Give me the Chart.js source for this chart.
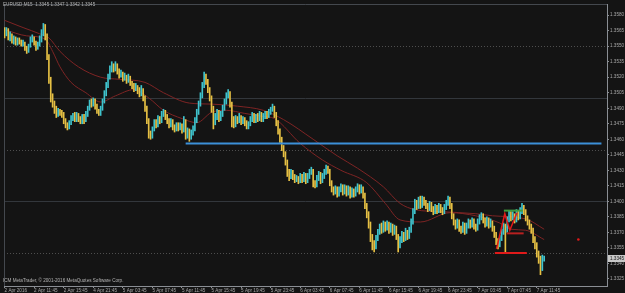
<!DOCTYPE html>
<html>
<head>
<meta charset="utf-8">
<title>EURUSD,M15</title>
<script src="https://cdn.jsdelivr.net/npm/chart.js@4.4.1/dist/chart.umd.min.js"></script>
<style>
  html, body { margin: 0; padding: 0; background: #141414; overflow: hidden; }
</style>
</head>
<body>
<canvas id="chart" width="625" height="293"></canvas>
<script>
// prices are written as price x 10000 (1.3565 -> 13565), one entry per M15 bar
const opens = [
  13565,13562,13566,13558,13560,13555,13557,13553,13556,13554, 13552,13553,13548,13546,13550,13556,13558,13553,13549,13551,
  13556,13562,13568,13560,13540,13518,13500,13494,13489,13484, 13487,13486,13484,13478,13474,13472,13476,13480,13482,13479,
  13483,13480,13477,13482,13478,13484,13490,13495,13494,13497, 13492,13487,13485,13490,13497,13504,13512,13520,13527,13531,
  13528,13532,13526,13522,13524,13519,13521,13517,13520,13514, 13512,13509,13511,13507,13504,13508,13500,13490,13478,13465,
  13463,13470,13476,13474,13480,13478,13484,13486,13482,13478, 13474,13477,13472,13470,13474,13471,13473,13469,13478,13464,
  13468,13462,13466,13470,13478,13486,13494,13502,13512,13521, 13516,13508,13500,13490,13476,13482,13486,13480,13484,13490,
  13496,13502,13505,13494,13480,13474,13480,13478,13482,13477, 13480,13476,13472,13475,13479,13483,13478,13482,13480,13484,
  13479,13482,13485,13483,13486,13489,13491,13484,13476,13468, 13460,13452,13446,13438,13428,13424,13428,13424,13421,13422,
  13420,13424,13421,13425,13420,13424,13428,13430,13418,13416, 13422,13426,13420,13424,13428,13432,13430,13418,13412,13409,
  13412,13407,13411,13414,13409,13413,13408,13412,13406,13410, 13407,13411,13414,13410,13413,13406,13396,13388,13378,13366,
  13358,13356,13364,13370,13374,13372,13377,13374,13378,13372, 13376,13370,13374,13366,13358,13362,13368,13364,13370,13366,
  13372,13380,13390,13398,13395,13400,13396,13402,13399,13396, 13393,13397,13393,13390,13394,13391,13395,13392,13390,13394,
  13398,13403,13396,13386,13380,13376,13380,13374,13372,13377, 13371,13376,13380,13377,13381,13376,13374,13380,13384,13386,
  13382,13378,13382,13377,13380,13374,13368,13362,13358,13364, 13370,13376,13372,13382,13388,13384,13386,13382,13388,13385,
  13390,13394,13390,13384,13380,13376,13372,13364,13358,13350, 13344,13336,13345
];
const highs = [
  13568,13568,13567,13564,13562,13560,13559,13558,13558,13556, 13556,13554,13550,13552,13559,13561,13559,13555,13554,13560,
  13566,13572,13571,13562,13542,13520,13504,13497,13492,13490, 13489,13488,13486,13480,13476,13478,13483,13485,13486,13486,
  13485,13482,13484,13484,13487,13492,13498,13499,13500,13499, 13494,13489,13492,13499,13507,13515,13523,13531,13535,13533,
  13535,13533,13528,13527,13525,13524,13522,13523,13521,13516, 13514,13514,13512,13510,13512,13509,13502,13492,13480,13468,
  13472,13479,13479,13483,13482,13487,13489,13488,13484,13480, 13480,13479,13474,13476,13476,13476,13475,13482,13479,13471,
  13470,13469,13473,13481,13489,13497,13505,13515,13525,13523, 13518,13510,13502,13492,13485,13489,13488,13487,13493,13499,
  13505,13508,13506,13496,13482,13483,13482,13485,13483,13482, 13481,13478,13477,13482,13486,13485,13484,13485,13487,13486,
  13485,13487,13487,13489,13491,13494,13492,13486,13478,13470, 13462,13454,13448,13440,13431,13431,13430,13426,13425,13424,
  13427,13426,13428,13427,13427,13431,13433,13431,13420,13425, 13429,13428,13427,13431,13435,13434,13431,13420,13414,13415,
  13414,13414,13417,13416,13416,13415,13415,13414,13413,13412, 13414,13417,13416,13416,13414,13408,13398,13390,13380,13368,
  13362,13367,13373,13378,13379,13381,13380,13381,13380,13379, 13378,13377,13376,13368,13366,13371,13370,13374,13372,13375,
  13383,13393,13402,13401,13404,13405,13405,13404,13401,13398, 13400,13399,13395,13397,13396,13398,13397,13394,13397,13401,
  13405,13404,13398,13388,13382,13383,13382,13376,13380,13379, 13379,13383,13382,13384,13383,13378,13383,13387,13389,13388,
  13384,13385,13384,13383,13381,13376,13370,13364,13367,13373, 13379,13378,13385,13391,13390,13390,13388,13392,13391,13394,
  13398,13396,13392,13386,13382,13378,13374,13366,13360,13352, 13347,13348,13347
];
const lows = [
  13558,13560,13556,13555,13553,13552,13551,13551,13552,13550, 13550,13546,13543,13544,13549,13554,13551,13546,13547,13550,
  13554,13560,13556,13537,13514,13496,13491,13485,13481,13482, 13483,13481,13475,13471,13469,13470,13474,13478,13477,13477,
  13477,13475,13475,13475,13477,13482,13488,13491,13492,13489, 13485,13483,13483,13488,13495,13502,13510,13518,13525,13525,
  13526,13523,13519,13520,13516,13517,13514,13515,13512,13509, 13506,13507,13504,13501,13502,13497,13487,13475,13461,13460,
  13461,13468,13471,13472,13475,13476,13482,13479,13475,13471, 13472,13469,13467,13468,13468,13469,13466,13467,13460,13461,
  13458,13460,13464,13468,13476,13484,13492,13500,13510,13513, 13505,13497,13486,13470,13474,13479,13477,13478,13482,13488,
  13494,13500,13491,13472,13471,13472,13475,13476,13474,13475, 13473,13470,13470,13473,13477,13476,13476,13477,13478,13477,
  13477,13480,13480,13481,13484,13487,13481,13473,13465,13457, 13449,13443,13435,13424,13420,13422,13421,13418,13419,13417,
  13418,13418,13419,13417,13418,13422,13426,13414,13413,13414, 13420,13417,13418,13422,13426,13427,13415,13409,13406,13407,
  13404,13405,13409,13406,13407,13405,13406,13403,13404,13404, 13405,13409,13407,13408,13403,13393,13384,13374,13361,13353,
  13351,13354,13362,13368,13369,13370,13371,13372,13369,13370, 13367,13368,13363,13351,13355,13360,13361,13362,13363,13364,
  13370,13378,13388,13392,13393,13393,13394,13396,13393,13390, 13391,13390,13387,13388,13388,13389,13389,13387,13388,13392,
  13396,13393,13383,13377,13373,13374,13371,13369,13370,13368, 13369,13374,13374,13375,13373,13371,13372,13378,13382,13379,
  13375,13376,13374,13375,13371,13365,13358,13354,13356,13362, 13368,13351,13370,13380,13381,13382,13379,13380,13382,13383,
  13388,13387,13381,13377,13373,13369,13360,13354,13346,13340, 13329,13333,13342
];
const closes = [
  13562,13566,13558,13560,13555,13557,13553,13556,13554,13552, 13553,13548,13546,13550,13556,13558,13553,13549,13551,13556,
  13562,13568,13560,13540,13518,13500,13494,13489,13484,13487, 13486,13484,13478,13474,13472,13476,13480,13482,13479,13483,
  13480,13477,13482,13478,13484,13490,13495,13494,13497,13492, 13487,13485,13490,13497,13504,13512,13520,13527,13531,13528,
  13532,13526,13522,13524,13519,13521,13517,13520,13514,13512, 13509,13511,13507,13504,13508,13500,13490,13478,13465,13463,
  13470,13476,13474,13480,13478,13484,13486,13482,13478,13474, 13477,13472,13470,13474,13471,13473,13469,13478,13464,13468,
  13462,13466,13470,13478,13486,13494,13502,13512,13521,13516, 13508,13500,13490,13476,13482,13486,13480,13484,13490,13496,
  13502,13505,13494,13480,13474,13480,13478,13482,13477,13480, 13476,13472,13475,13479,13483,13478,13482,13480,13484,13479,
  13482,13485,13483,13486,13489,13491,13484,13476,13468,13460, 13452,13446,13438,13428,13424,13428,13424,13421,13422,13420,
  13424,13421,13425,13420,13424,13428,13430,13418,13416,13422, 13426,13420,13424,13428,13432,13430,13418,13412,13409,13412,
  13407,13411,13414,13409,13413,13408,13412,13406,13410,13407, 13411,13414,13410,13413,13406,13396,13388,13378,13366,13358,
  13356,13364,13370,13374,13372,13377,13374,13378,13372,13376, 13370,13374,13366,13358,13362,13368,13364,13370,13366,13372,
  13380,13390,13398,13395,13400,13396,13402,13399,13396,13393, 13397,13393,13390,13394,13391,13395,13392,13390,13394,13398,
  13403,13396,13386,13380,13376,13380,13374,13372,13377,13371, 13376,13380,13377,13381,13376,13374,13380,13384,13386,13382,
  13378,13382,13377,13380,13374,13368,13362,13358,13364,13370, 13376,13372,13382,13388,13384,13386,13382,13388,13385,13390,
  13394,13390,13384,13380,13376,13372,13364,13358,13350,13344, 13336,13345,13345
];

// time axis: bar index of each label
const tickBars = [0, 16, 32, 48, 64, 80, 96, 112, 128, 144, 160, 176, 192, 208, 224, 240, 256, 272, 288];
const tickLabels = ["2 Apr 2016", "2 Apr 11:45", "2 Apr 15:45", "4 Apr 21:45", "5 Apr 03:45", "5 Apr 07:45",
  "5 Apr 11:45", "5 Apr 15:45", "5 Apr 19:45", "5 Apr 23:45", "6 Apr 03:45", "6 Apr 07:45", "6 Apr 11:45",
  "6 Apr 15:45", "6 Apr 19:45", "6 Apr 23:45", "7 Apr 03:45", "7 Apr 07:45", "7 Apr 11:45"];
const priceTicks = [13580, 13565, 13550, 13535, 13520, 13505, 13490, 13475, 13460, 13445,
  13430, 13415, 13400, 13385, 13370, 13355, 13340, 13325];
const dottedLevels = [13550, 13450, 13350];
const roundLevels = [13500, 13400];

// moving averages as [bar, price]
const fastMa = [[0,13566],[12,13560],[22,13557],[26,13545],[30,13530],[36,13515],[44,13505],[52,13496],[60,13502],
  [70,13508],[78,13500],[86,13488],[96,13480],[104,13476],[112,13486],[120,13488],[130,13485],[140,13482],[146,13480],
  [160,13456],[172,13440],[182,13430],[196,13418],[206,13398],[214,13382],[225,13380],[241,13389],[255,13386],
  [268,13379],[274,13373],[282,13372],[292,13363]];
const slowMa = [[0,13575],[10,13568],[19,13562],[24,13558],[30,13545],[40,13530],[52,13520],[62,13518],[76,13515],
  [86,13505],[100,13495],[112,13494],[126,13492],[140,13488],[151,13479],[167,13460],[180,13444],[191,13432],
  [205,13414],[214,13398],[222,13392],[236,13390],[255,13388],[264,13386],[282,13383],[292,13373]];

// drawn objects, [bar, price]
const blueLine = [[98, 13456], [323, 13456]];
const redLow = [[265.3, 13350], [282.6, 13350]];
const redMid = [[271.8, 13369], [280.9, 13369]];
const greenTop = [[270.2, 13391], [280.4, 13391]];
const zigzag = [[266.2, 13354], [270.7, 13388], [273.4, 13372], [277.3, 13389]];
const redDot = [[310.5, 13363]];

const px = v => v / 10000;
const pts = arr => arr.map(([b, p]) => ({ x: b, y: px(p) }));

const bullColor = "#3fc4ce";
const bearColor = "#e6c044";
const candleColors = closes.map((c, i) => c >= opens[i] ? bullColor : bearColor);

const wickData = closes.map((c, i) => ({ x: i, y: [px(lows[i]), px(highs[i])] }));

const last = closes.length - 1;
const fmt = v => px(v).toFixed(4);
const headerText = "EURUSD,M15  " + fmt(opens[last]) + " " + fmt(highs[last]) + " " + fmt(lows[last]) + " " + fmt(closes[last]);
const footerText = "ICM MetaTrader, \u00a9 2001-2016 MetaQuotes Software Corp.";

const smallFont = '4.6px "Liberation Sans", "DejaVu Sans", sans-serif';

const mtPlugin = {
  id: "mt",
  beforeDraw(chart) {
    const ctx = chart.ctx;
    ctx.save();
    ctx.fillStyle = "#141414";
    ctx.fillRect(0, 0, chart.width, chart.height);
    ctx.restore();
  },
  beforeDatasetsDraw(chart) {
    const { ctx, chartArea: a, scales: { y } } = chart;
    ctx.save();
    ctx.lineWidth = 1;
    ctx.strokeStyle = "#33373c";
    roundLevels.forEach(p => {
      const yy = Math.round(y.getPixelForValue(px(p))) + 0.5;
      ctx.beginPath(); ctx.moveTo(a.left, yy); ctx.lineTo(a.right, yy); ctx.stroke();
    });
    ctx.strokeStyle = "#4e4e4e";
    ctx.setLineDash([1, 2]);
    dottedLevels.forEach(p => {
      const yy = Math.round(y.getPixelForValue(px(p))) + 0.5;
      ctx.beginPath(); ctx.moveTo(a.left, yy); ctx.lineTo(a.right, yy); ctx.stroke();
    });
    ctx.setLineDash([]);
    // frame top and left
    ctx.strokeStyle = "#44484e";
    ctx.beginPath();
    ctx.moveTo(a.left + 0.5, a.bottom); ctx.lineTo(a.left + 0.5, a.top + 0.5); ctx.lineTo(a.right, a.top + 0.5);
    ctx.stroke();
    ctx.restore();
  },
  afterDraw(chart) {
    const { ctx, chartArea: a, scales: { y } } = chart;
    ctx.save();
    ctx.font = smallFont;
    ctx.fillStyle = "#b4b4b4";
    ctx.textBaseline = "middle";
    ctx.textAlign = "left";
    ctx.fillText(headerText, 3, 5);
    ctx.fillText(footerText, 3, 281);
    // current price marker on the price axis
    const yy = Math.round(y.getPixelForValue(px(closes[last])));
    ctx.fillStyle = "#c8c8c8";
    ctx.fillRect(a.right + 1, yy - 3, chart.width - a.right - 1, 7);
    ctx.fillStyle = "#141414";
    ctx.fillText(fmt(closes[last]), a.right + 3, yy + 0.5);
    ctx.restore();
  }
};

new Chart(document.getElementById("chart"), {
  type: "bar",
  data: {
    datasets: [
      { label: "fast", type: "line", data: pts(fastMa), borderColor: "#7e2424", borderWidth: 1,
        pointRadius: 0, tension: 0.4, cubicInterpolationMode: "monotone", order: 3 },
      { label: "slow", type: "line", data: pts(slowMa), borderColor: "#7e2424", borderWidth: 1,
        pointRadius: 0, tension: 0.4, cubicInterpolationMode: "monotone", order: 3 },
      { label: "candles", data: wickData, backgroundColor: candleColors, barThickness: 1, grouped: false, order: 1 },
      { label: "level", type: "line", data: pts(blueLine), borderColor: "#3c90d8", borderWidth: 2, pointRadius: 0, order: 0 },
      { label: "red low", type: "line", data: pts(redLow), borderColor: "#e01a1a", borderWidth: 2, pointRadius: 0, order: 0 },
      { label: "red mid", type: "line", data: pts(redMid), borderColor: "#b82020", borderWidth: 2, pointRadius: 0, order: 0 },
      { label: "green", type: "line", data: pts(greenTop), borderColor: "#3f9c3f", borderWidth: 2, pointRadius: 0, order: 0 },
      { label: "zigzag", type: "line", data: pts(zigzag), borderColor: "#e01a1a", borderWidth: 1.5, pointRadius: 0, order: 0 },
      { label: "dot", type: "scatter", data: pts(redDot), pointRadius: 1.3, pointBackgroundColor: "#e01a1a",
        pointBorderWidth: 0, order: 0 }
    ]
  },
  options: {
    responsive: false,
    animation: false,
    devicePixelRatio: 1,
    layout: { padding: { left: 1, top: 1, right: 0, bottom: 0 } },
    plugins: { legend: { display: false }, tooltip: { enabled: false } },
    scales: {
      x: {
        type: "linear",
        min: -0.3,
        max: 326,
        offset: false,
        position: "bottom",
        grid: { drawOnChartArea: false, offset: false, tickLength: 2, color: "#8a8e94" },
        border: { color: "#8a8e94" },
        afterBuildTicks: s => { s.ticks = tickBars.map(v => ({ value: v })); },
        afterFit: s => { s.height = 7; },
        ticks: {
          autoSkip: false, maxRotation: 0, minRotation: 0, align: "start", padding: 0,
          color: "#a8a8a8", font: { family: "Liberation Sans", size: 4.6 },
          callback: (v, i) => tickLabels[i]
        }
      },
      y: {
        type: "linear",
        position: "right",
        min: 1.33181,
        max: 1.35908,
        grid: { drawOnChartArea: false, tickLength: 2, color: "#8a8e94" },
        border: { color: "#8a8e94" },
        afterBuildTicks: s => { s.ticks = priceTicks.map(v => ({ value: px(v) })); },
        afterFit: s => { s.width = 18; },
        ticks: {
          padding: 1, color: "#a8a8a8", font: { family: "Liberation Sans", size: 4.6 },
          callback: v => v.toFixed(4)
        }
      }
    }
  },
  plugins: [mtPlugin]
});
</script>
</body>
</html>
